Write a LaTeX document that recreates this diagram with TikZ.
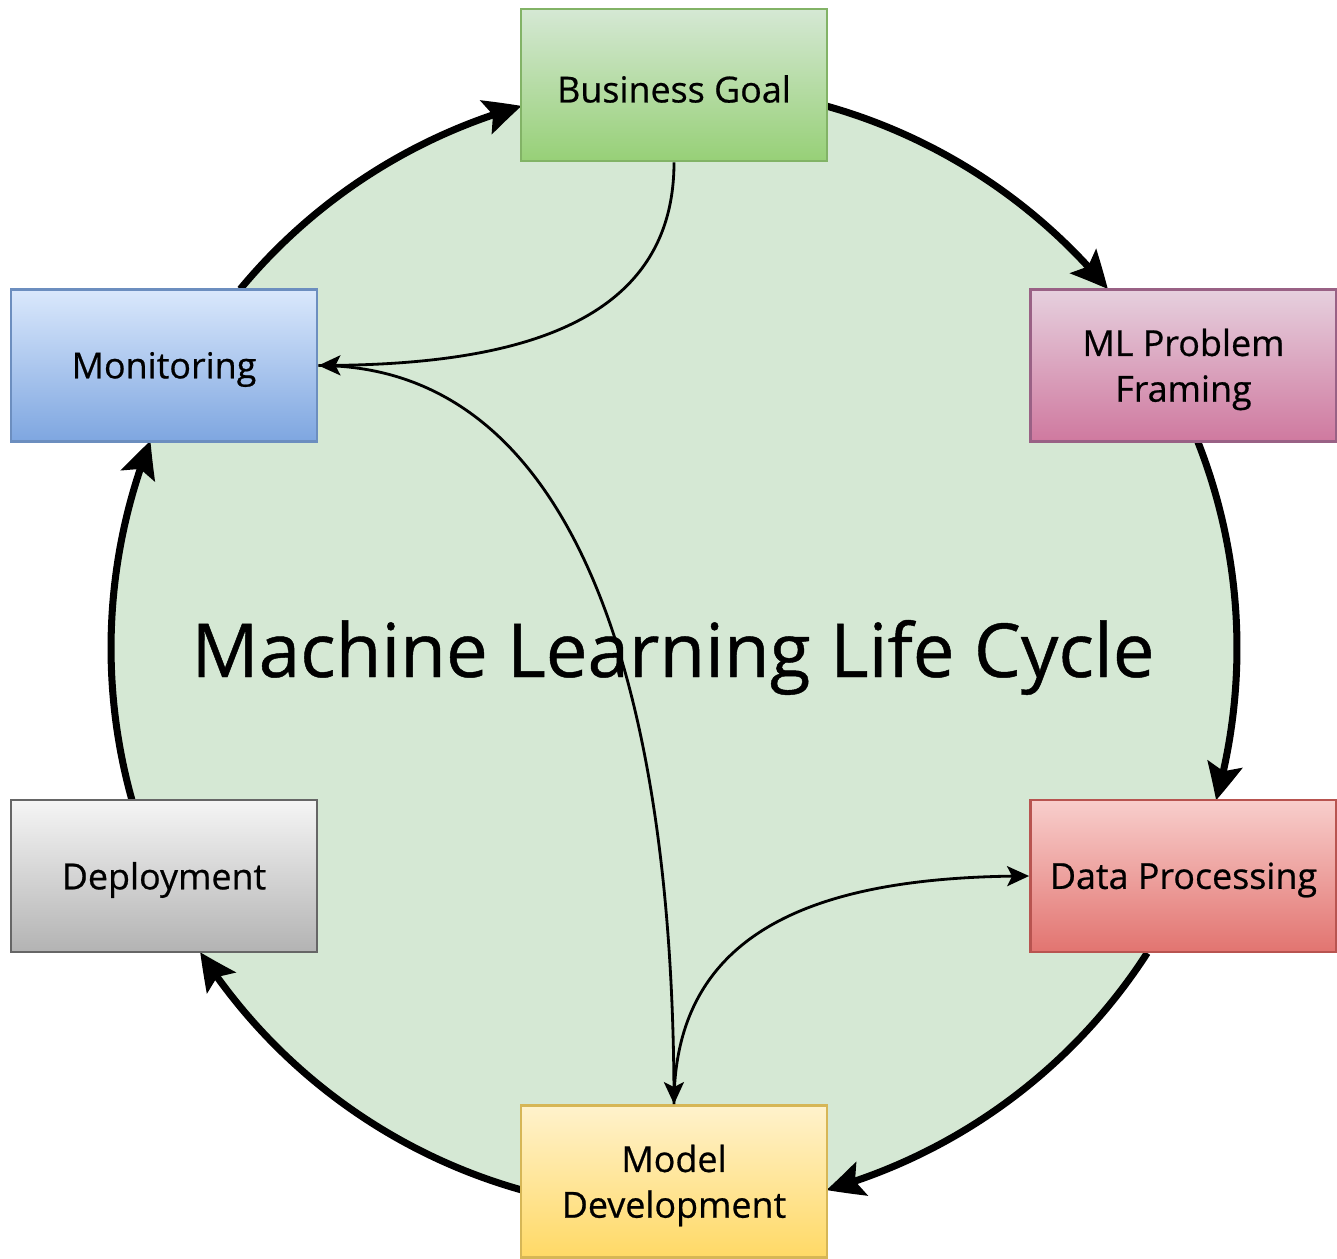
\documentclass[tikz,border=0pt]{standalone}
\usepackage{fontspec}
\setmainfont{Open Sans}
\newfontfamily\medfont[FakeBold=0.6]{Open Sans}
\usetikzlibrary{arrows.meta,bending}
\definecolor{gTop}{HTML}{D5E8D4}\definecolor{gBot}{HTML}{97D077}\definecolor{gLn}{HTML}{82B366}
\definecolor{pTop}{HTML}{E6D0DE}\definecolor{pBot}{HTML}{CF799F}\definecolor{pLn}{HTML}{996185}
\definecolor{rTop}{HTML}{F8CECC}\definecolor{rBot}{HTML}{E27470}\definecolor{rLn}{HTML}{B85450}
\definecolor{yTop}{HTML}{FFF2CC}\definecolor{yBot}{HTML}{FFD966}\definecolor{yLn}{HTML}{D6B656}
\definecolor{kTop}{HTML}{F5F5F5}\definecolor{kBot}{HTML}{B3B3B3}\definecolor{kLn}{HTML}{666666}
\definecolor{bTop}{HTML}{DAE8FC}\definecolor{bBot}{HTML}{7EA6E0}\definecolor{bLn}{HTML}{6C8EBF}
\definecolor{circFill}{HTML}{D5E8D4}
\tikzset{
  stage/.style={rectangle, minimum width=3.06cm, minimum height=1.52cm, inner sep=0pt,
    line width=0.8pt},
  txt/.style={align=center, inner sep=0pt, yshift=-0.04cm, text=black,
    font=\medfont\fontsize{10.2}{13}\selectfont},
  cyc/.style={line width=2pt, -{Stealth[length=0.37cm,width=0.35cm,inset=0.07cm,bend]}},
  thin/.style={line width=0.8pt, -{Stealth[length=0.22cm,width=0.2cm,inset=0.05cm]}}
}
\begin{document}
\begin{tikzpicture}
\useasboundingbox (0,0) rectangle (13.37,12.58);
\coordinate (c) at (6.74,6.10);
\fill[circFill] (c) circle[radius=5.63];
% cycle arcs
\draw[cyc] ([shift={(74.3:5.63)}]c) arc[start angle=74.3, end angle=39.6, radius=5.63];
\draw[cyc] ([shift={(21.6:5.63)}]c) arc[start angle=21.6, end angle=-15.7, radius=5.63];
\draw[cyc] ([shift={(-32.8:5.63)}]c) arc[start angle=-32.8, end angle=-74.3, radius=5.63];
\draw[cyc] ([shift={(-105.7:5.63)}]c) arc[start angle=-105.7, end angle=-147.3, radius=5.63];
\draw[cyc] ([shift={(195.7:5.63)}]c) arc[start angle=195.7, end angle=158.4, radius=5.63];
\draw[cyc] ([shift={(140.4:5.63)}]c) arc[start angle=140.4, end angle=105.7, radius=5.63];
% boxes
\node[stage, draw=gLn, top color=gTop, bottom color=gBot, label={[txt]center:Business Goal}] (bg) at (6.74,11.73) {};
\node[stage, draw=pLn, top color=pTop, bottom color=pBot, label={[txt]center:{ML Problem\\Framing}}] (ml) at (11.835,8.925) {};
\node[stage, draw=rLn, top color=rTop, bottom color=rBot, label={[txt]center:Data Processing}] (dp) at (11.835,3.82) {};
\node[stage, draw=yLn, top color=yTop, bottom color=yBot, label={[txt]center:{Model\\Development}}] (md) at (6.74,0.765) {};
\node[stage, draw=kLn, top color=kTop, bottom color=kBot, label={[txt]center:Deployment}] (dep) at (1.64,3.82) {};
\node[stage, draw=bLn, top color=bTop, bottom color=bBot, label={[txt]center:Monitoring}] (mon) at (1.64,8.925) {};
% title
\node[anchor=base, font=\medfont\fontsize{21.2}{26}\selectfont, inner sep=0pt] (title) at (6.73,5.81) {Machine Learning Life Cycle};
% thin connectors
\draw[thin] (bg.south) .. controls +(0,-1.7) and +(1.8,0) .. (mon.east);
\draw[thin] (mon.east) .. controls +(2.62,0) and +(0,4.05) .. (md.north);
\draw[thin] (md.north) .. controls +(0,1.75) and +(-2.11,0) .. (dp.west);
\end{tikzpicture}
\end{document}
